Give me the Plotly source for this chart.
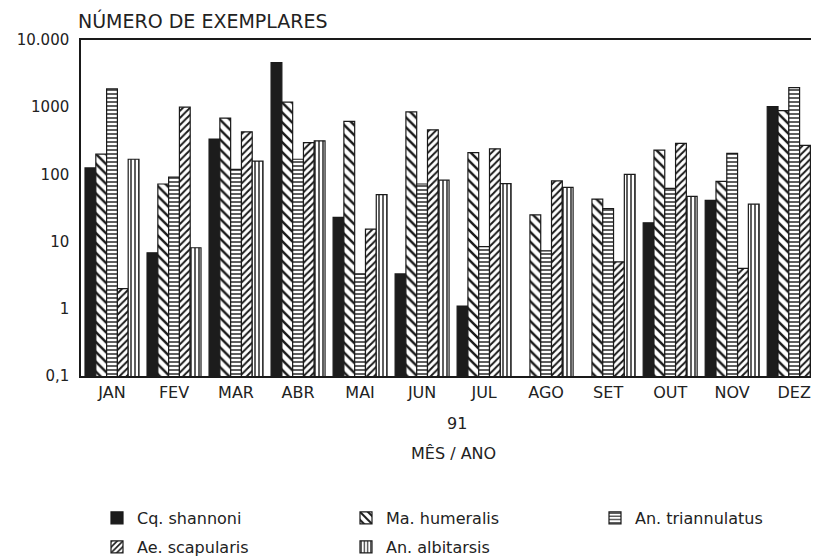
import plotly.graph_objects as go

months = ["JAN", "FEV", "MAR", "ABR", "MAI", "JUN", "JUL", "AGO", "SET", "OUT", "NOV", "DEZ"]

cq_shannoni = [125, 6.8, 335, 4600, 23, 3.3, 1.1, None, None, 19, 41, 1020]
ma_humeralis = [200, 72, 690, 1190, 617, 850, 211, 25, 43, 230, 79, 890]
an_triannulatus = [1870, 91, 119, 168, 3.3, 72, 8.4, 7.3, 31, 62, 205, 1950]
ae_scapularis = [2.0, 1000, 430, 298, 15.3, 460, 240, 80, 5.0, 290, 4.0, 270]
an_albitarsis = [168, 8.1, 158, 316, 50, 82, 73, 64, 100, 47, 36, 51]

y_tickvals = [0.1, 1, 10, 100, 1000, 10000]
y_ticktext = ["0,1", "1", "10", "100", "1000", "10.000"]

# the page body adds an 8px margin; size the figure so it fills the 819x558 window
OFF = 8
W, H = 819 - OFF, 558 - OFF
# plot area in window pixels: x 81..819, y 40..376
ML, MR, MT, MB = 81 - OFF, 0, 40 - OFF, 558 - 376
PW, PH = W - ML - MR, H - MT - MB


def px_x(px):  # window pixel -> paper fraction
    return (px - OFF - ML) / PW


def px_y(py):
    return 1 - (py - OFF - MT) / PH


FONT = "DejaVu Sans"
INK = "#1a1a1a"
series = [
    ("Cq. shannoni", cq_shannoni, "", "legend"),
    ("Ma. humeralis", ma_humeralis, "\\", "legend"),
    ("An. triannulatus", an_triannulatus, "-", "legend"),
    ("Ae. scapularis", ae_scapularis, "/", "legend2"),
    ("An. albitarsis", an_albitarsis, "|", "legend2"),
]
pattern_sizes = {"\\": 7, "-": 4, "/": 5, "|": 4}
pattern_sol = {"\\": 0.35, "-": 0.35, "/": 0.4, "|": 0.35}

xs = list(range(len(months)))
fig = go.Figure()
for name, vals, shape, leg in series:
    if shape == "":
        marker = dict(color="#1c1c1c", line=dict(color=INK, width=1.2))
    else:
        marker = dict(
            color="white",
            line=dict(color=INK, width=1.2),
            pattern=dict(shape=shape, fgcolor=INK, bgcolor="white",
                         size=pattern_sizes[shape], solidity=pattern_sol[shape],
                         fillmode="replace"),
        )
    fig.add_trace(go.Bar(x=xs, y=vals, name=name, marker=marker, legend=leg))

legend_common = dict(orientation="h", xanchor="left", yanchor="middle",
                     entrywidth=187, entrywidthmode="pixels", indentation=17,
                     font=dict(size=16, family=FONT, color="#222"),
                     bgcolor="rgba(0,0,0,0)")

fig.update_layout(
    width=W, height=H,
    margin=dict(l=ML, r=MR, t=MT, b=MB, autoexpand=False),
    paper_bgcolor="white", plot_bgcolor="white",
    barmode="group", bargap=0.13, bargroupgap=0,
    font=dict(family=FONT, color="#222"),
    legend=dict(x=px_x(80), y=px_y(518), **legend_common),
    legend2=dict(x=px_x(80), y=px_y(547), **legend_common),
    xaxis=dict(range=[-0.5, 11.4], tickvals=xs, ticktext=months, showgrid=False,
               showline=True, linecolor=INK, linewidth=1.5, mirror=True,
               ticks="", ticklabelstandoff=1, tickfont=dict(size=16, family=FONT),
               zeroline=False),
    yaxis=dict(type="log", range=[-1, 4], tickvals=y_tickvals, ticktext=y_ticktext,
               showgrid=False, showline=True, linecolor=INK, linewidth=1.5,
               ticks="", ticklabelstandoff=7, tickfont=dict(size=15, family=FONT),
               zeroline=False),
    annotations=[
        dict(text="NÚMERO DE EXEMPLARES", x=px_x(76), y=px_y(21), xref="paper", yref="paper",
             xanchor="left", yanchor="middle", showarrow=False, font=dict(size=19, family=FONT)),
        dict(text="91", x=px_x(457), y=px_y(423), xref="paper", yref="paper",
             xanchor="center", yanchor="middle", showarrow=False, font=dict(size=16, family=FONT)),
        dict(text="MÊS / ANO", x=px_x(453), y=px_y(453), xref="paper", yref="paper",
             xanchor="center", yanchor="middle", showarrow=False, font=dict(size=16, family=FONT)),
    ],
)

fig.write_html("out.html")
